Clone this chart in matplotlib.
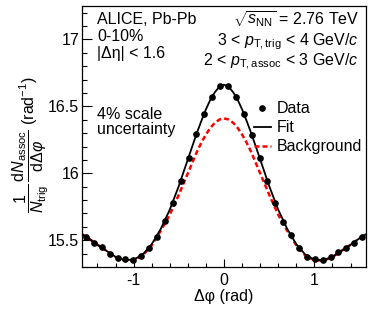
import numpy as np
import matplotlib
matplotlib.use("Agg")
import matplotlib.pyplot as plt
from matplotlib.ticker import MultipleLocator
from matplotlib.lines import Line2D

plt.rcParams['font.family'] = ['Liberation Sans', 'DejaVu Sans']
plt.rcParams['mathtext.fontset'] = 'custom'
plt.rcParams['mathtext.rm'] = 'Liberation Sans'
plt.rcParams['mathtext.it'] = 'Liberation Sans:italic'
plt.rcParams['mathtext.bf'] = 'Liberation Sans:bold'
plt.rcParams['axes.unicode_minus'] = False

# data points: 36 bins of width pi/36 over [-pi/2, pi/2]
n_bins = 36
edges = np.linspace(-np.pi / 2, np.pi / 2, n_bins + 1)
data_x = 0.5 * (edges[:-1] + edges[1:])
data_y = [15.526, 15.476, 15.446, 15.400, 15.367, 15.357, 15.352, 15.384, 15.442,
          15.526, 15.646, 15.775, 15.944, 16.115, 16.293, 16.446, 16.571, 16.653,
          16.653, 16.571, 16.446, 16.287, 16.118, 15.944, 15.780, 15.636, 15.536,
          15.439, 15.377, 15.357, 15.352, 15.372, 15.409, 15.439, 15.476, 15.526]

# curves
curve_x = [-1.571, -1.5, -1.4, -1.3, -1.2, -1.1, -1.0, -0.9, -0.8, -0.7, -0.6, -0.5,
           -0.4, -0.3, -0.25, -0.2, -0.15, -0.1, -0.05, 0.0, 0.05, 0.1, 0.15, 0.2,
           0.25, 0.3, 0.4, 0.5, 0.6, 0.7, 0.8, 0.9, 1.0, 1.1, 1.2, 1.3, 1.4, 1.5, 1.571]
fit_y = [15.545, 15.515, 15.466, 15.421, 15.376, 15.352, 15.355, 15.392, 15.470,
         15.584, 15.728, 15.905, 16.104, 16.302, 16.392, 16.478, 16.551, 16.607,
         16.647, 16.662, 16.647, 16.607, 16.551, 16.478, 16.392, 16.302, 16.104,
         15.905, 15.728, 15.584, 15.470, 15.392, 15.355, 15.352, 15.376, 15.421,
         15.466, 15.515, 15.545]
bkg_y = [15.545, 15.515, 15.466, 15.421, 15.374, 15.348, 15.350, 15.385, 15.462,
         15.570, 15.690, 15.840, 16.000, 16.160, 16.230, 16.290, 16.340, 16.378,
         16.402, 16.410, 16.402, 16.378, 16.340, 16.290, 16.230, 16.160, 16.000,
         15.840, 15.690, 15.570, 15.462, 15.385, 15.350, 15.348, 15.374, 15.421,
         15.466, 15.515, 15.545]

fs = 11.5
fig = plt.figure(figsize=(3.74, 3.09), dpi=100)
ax = fig.add_axes([82 / 374, 42 / 309, 284 / 374, 261 / 309])

ax.plot(curve_x, bkg_y, color='red', lw=1.8, ls=(0, (2.0, 1.2)), zorder=2)
ax.plot(curve_x, fit_y, color='black', lw=1.3, zorder=3)
ax.plot(data_x, data_y, 'o', color='black', ms=3.8, zorder=4)

ax.set_xlim(-np.pi / 2, np.pi / 2)
ax.set_ylim(15.3, 17.25)
ax.xaxis.set_major_locator(MultipleLocator(1))
ax.xaxis.set_minor_locator(MultipleLocator(0.2))
ax.yaxis.set_minor_locator(MultipleLocator(0.1))
ax.set_yticks([15.5, 16, 16.5, 17])
ax.set_yticklabels(['15.5', '16', '16.5', '17'])
ax.tick_params(which='both', direction='in', top=False, right=False, labelsize=fs)
ax.tick_params(axis='y', which='major', length=7, width=0.8, pad=2)
ax.tick_params(axis='y', which='minor', length=3.5, width=0.8)
ax.tick_params(axis='x', which='major', length=6, width=0.8, pad=4)
ax.tick_params(axis='x', which='minor', length=3, width=0.8)
for s in ax.spines.values():
    s.set_linewidth(0.9)

ax.set_xlabel('Δφ (rad)', fontsize=fs, labelpad=1)
ax.set_ylabel(r'$\dfrac{1}{N_{\mathrm{trig}}}\,\dfrac{\mathrm{d}N_{\mathrm{assoc}}}{\mathrm{d}\Delta\varphi}$ (rad$^{-1}$)',
              fontsize=fs)
ax.yaxis.set_label_coords(-0.11, 0.47)

ax.text(0.053, 0.93, 'ALICE, Pb-Pb', transform=ax.transAxes, fontsize=fs)
ax.text(0.053, 0.865, '0-10%', transform=ax.transAxes, fontsize=fs)
ax.text(0.053, 0.80, '|Δη| < 1.6', transform=ax.transAxes, fontsize=fs)
ax.text(0.053, 0.568, '4% scale', transform=ax.transAxes, fontsize=fs)
ax.text(0.053, 0.51, 'uncertainty', transform=ax.transAxes, fontsize=fs)

ax.text(0.975, 0.93, r'$\sqrt{s_{\mathrm{NN}}}$ = 2.76 TeV', transform=ax.transAxes,
        fontsize=fs, ha='right')
ax.text(0.975, 0.85, r'3 < $p_{\mathrm{T,trig}}$ < 4 GeV/$c$', transform=ax.transAxes,
        fontsize=fs, ha='right')
ax.text(0.975, 0.77, r'2 < $p_{\mathrm{T,assoc}}$ < 3 GeV/$c$', transform=ax.transAxes,
        fontsize=fs, ha='right')

handles = [Line2D([], [], marker='o', ls='none', color='black', ms=3.8),
           Line2D([], [], color='black', lw=1.3),
           Line2D([], [], color='red', lw=1.8, ls=(0, (2.0, 1.2)))]
ax.legend(handles, ['Data', 'Fit', 'Background'], loc='upper left',
          bbox_to_anchor=(0.605, 0.635), frameon=False, fontsize=fs,
          handlelength=1.05, handletextpad=0.4, labelspacing=0.25,
          borderpad=0, borderaxespad=0)

fig.savefig('out.png', dpi=100)
